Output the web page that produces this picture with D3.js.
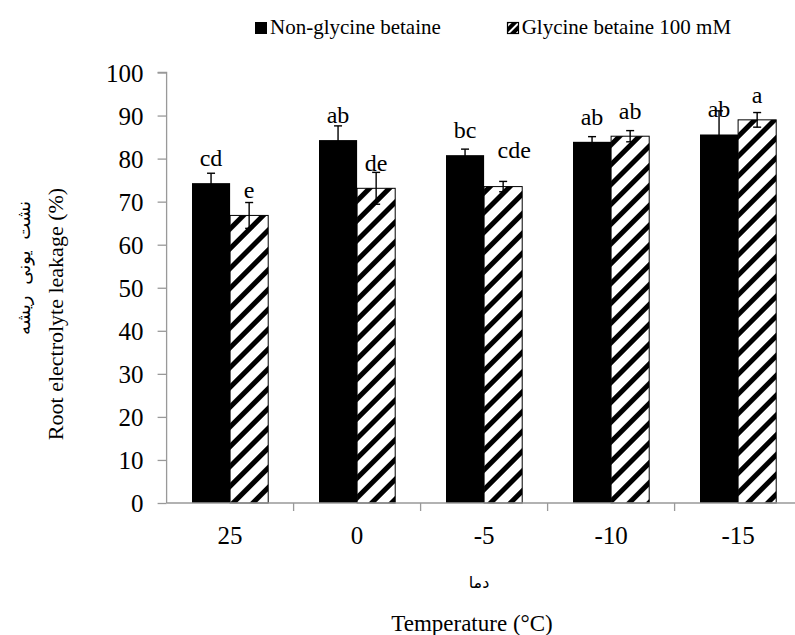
<!DOCTYPE html>
<html>
<head>
<meta charset="utf-8">
<script src="https://cdn.jsdelivr.net/npm/d3@7"></script>
<style>
  body { margin: 0; background: #fff; }
  text { font-family: "Liberation Serif", "Times New Roman", serif; fill: #000; }
  .fa { font-family: "DejaVu Sans", "Noto Sans", sans-serif; }
</style>
</head>
<body>
<div id="chartDiv"></div>
<script>
//----------------------------------------------------------------------------------------------------
var temperatures   = ["25", "0", "-5", "-10", "-15"];
var nonGB          = [74.3, 84.3, 80.8, 83.9, 85.6];   // Non-glycine betaine
var nonGBErr       = [2.3, 3.3, 1.4, 1.2, 5.5];
var withGB         = [66.8, 73.1, 73.5, 85.2, 89.0];   // Glycine betaine 100 mM
var withGBErr      = [3.0, 3.7, 1.2, 1.3, 1.7];
var nonGBLetters   = ["cd", "ab", "bc", "ab", "ab"];
var withGBLetters  = ["e", "de", "cde", "ab", "a"];
var yTicks         = [0, 10, 20, 30, 40, 50, 60, 70, 80, 90, 100];
var seriesNames    = ["Non-glycine betaine", "Glycine betaine 100 mM"];

var width = 795, height = 635;
var axisColor = "#999";

//----------------------------------------------------------------------------------------------------
function drawChart()
{
   var svg = d3.select("#chartDiv").append("svg")
       .attr("width", width)
       .attr("height", height);

   var defs = svg.append("defs");

      // wide diagonal stripes for the bars, a finer one for the legend swatch
   var hatch = defs.append("pattern")
       .attr("id", "hatch")
       .attr("patternUnits", "userSpaceOnUse")
       .attr("width", 14).attr("height", 14)
       .attr("patternTransform", "rotate(45)");
   hatch.append("rect").attr("width", 14).attr("height", 14).attr("fill", "#fff");
   hatch.append("rect").attr("width", 5).attr("height", 14).attr("fill", "#000");

   var hatchSmall = defs.append("pattern")
       .attr("id", "hatchSmall")
       .attr("patternUnits", "userSpaceOnUse")
       .attr("width", 6).attr("height", 6)
       .attr("patternTransform", "rotate(45)");
   hatchSmall.append("rect").attr("width", 6).attr("height", 6).attr("fill", "#fff");
   hatchSmall.append("rect").attr("width", 4).attr("height", 6).attr("fill", "#000");

   var xScale = d3.scaleBand()
       .domain(temperatures)
       .range([166.6, 801.6]);

   var barW = xScale.bandwidth() * 0.3;
   var gapW = xScale.bandwidth() * 0.2;

   var yScale = d3.scaleLinear()
       .domain([0, 100])
       .range([503, 72.5]);

      // y axis
   var yAxis = d3.axisLeft(yScale)
       .tickValues(yTicks)
       .tickSize(9)
       .tickPadding(14);

   var gy = svg.append("g")
       .attr("transform", "translate(166.6,0)")
       .call(yAxis);
   gy.attr("font-family", null).attr("font-size", null);
   gy.selectAll("path, line").attr("stroke", axisColor).attr("stroke-width", 1.3);
   gy.select(".domain").attr("d", "M-9,72.5H0V503");
   gy.selectAll("text")
       .attr("dy", "0.34em")
       .style("font-family", "'Liberation Serif', serif")
       .style("font-size", "25px");

   var rows = temperatures.map(function(t, i){
      return {t: t, i: i};
      });

      // bars
   var series = [
      {vals: nonGB, errs: nonGBErr, letters: nonGBLetters, fill: "#000", off: 0},
      {vals: withGB, errs: withGBErr, letters: withGBLetters, fill: "url(#hatch)", off: barW}
      ];

   series.forEach(function(s, k){
      svg.append("g").selectAll("rect")
         .data(rows)
         .enter()
         .append("rect")
         .attr("x", function(d){ return xScale(d.t) + gapW + s.off; })
         .attr("y", function(d){ return yScale(s.vals[d.i]); })
         .attr("width", barW)
         .attr("height", function(d){ return yScale(0) - yScale(s.vals[d.i]); })
         .attr("fill", s.fill)
         .attr("stroke", "#000")
         .attr("stroke-width", k == 0 ? 0 : 1);
      });

      // x axis line, boundary ticks and category labels
   var gx = svg.append("g").attr("transform", "translate(0,503)");
   gx.append("line")
      .attr("x1", 166.6).attr("x2", width)
      .attr("stroke", axisColor).attr("stroke-width", 1.3);
   gx.selectAll("line.tick")
      .data(temperatures.slice(1))
      .enter()
      .append("line")
      .attr("class", "tick")
      .attr("x1", function(d){ return xScale(d); })
      .attr("x2", function(d){ return xScale(d); })
      .attr("y1", 0).attr("y2", 8)
      .attr("stroke", axisColor).attr("stroke-width", 1.3);
   gx.selectAll("text")
      .data(temperatures)
      .enter()
      .append("text")
      .attr("x", function(d){ return xScale(d) + xScale.bandwidth() / 2; })
      .attr("y", 41)
      .attr("text-anchor", "middle")
      .style("font-size", "25px")
      .text(function(d){ return d; });

      // error bars and letters
   series.forEach(function(s, k){
      var g = svg.append("g");
      rows.forEach(function(d){
         var cx = xScale(d.t) + gapW + s.off + barW / 2;
         var top = yScale(s.vals[d.i] + s.errs[d.i]);
         var bot = yScale(s.vals[d.i] - s.errs[d.i]);
         g.append("line").attr("x1", cx).attr("x2", cx).attr("y1", top).attr("y2", bot)
            .attr("stroke", "#000").attr("stroke-width", 1.4);
         g.append("line").attr("x1", cx - 4).attr("x2", cx + 4).attr("y1", top).attr("y2", top)
            .attr("stroke", "#000").attr("stroke-width", 1.4);
         g.append("line").attr("x1", cx - 4).attr("x2", cx + 4).attr("y1", bot).attr("y2", bot)
            .attr("stroke", "#000").attr("stroke-width", 1.4);

            // the "cde" label was nudged up and right in the original
         var dx = 0, dy = 0;
         if(k == 1 && d.t == "-5"){ dx = 11; dy = -12; }
         g.append("text")
            .attr("x", cx + dx)
            .attr("y", yScale(s.vals[d.i]) - 17 + dy)
            .attr("text-anchor", "middle")
            .style("font-size", "24px")
            .text(s.letters[d.i]);
         });
      });

      // legend
   var leg = svg.append("g");
   leg.append("rect").attr("x", 255).attr("y", 22).attr("width", 12).attr("height", 12).attr("fill", "#000");
   leg.append("text").attr("x", 270).attr("y", 34).style("font-size", "21px").text(seriesNames[0]);
   leg.append("rect").attr("x", 507.5).attr("y", 22.5).attr("width", 11).attr("height", 11)
      .attr("fill", "url(#hatchSmall)").attr("stroke", "#000").attr("stroke-width", 1.2);
   leg.append("text").attr("x", 521.7).attr("y", 34).style("font-size", "21px").text(seriesNames[1]);

      // axis titles
   svg.append("text")
      .attr("transform", "translate(63,314) rotate(-90)")
      .attr("text-anchor", "middle")
      .style("font-size", "22px")
      .text("Root electrolyte leakage (%)");

   svg.append("text")
      .attr("class", "fa")
      .attr("transform", "translate(30,268) rotate(-90)")
      .attr("text-anchor", "middle")
      .style("font-size", "18px")
      .style("word-spacing", "5px")
      .text("نشت یونی ریشه");

   svg.append("text")
      .attr("class", "fa")
      .attr("x", 479).attr("y", 588)
      .attr("text-anchor", "middle")
      .style("font-size", "16px")
      .text("دما");

   svg.append("text")
      .attr("x", 472).attr("y", 631)
      .attr("text-anchor", "middle")
      .style("font-size", "23px")
      .text("Temperature (°C)");

} // drawChart
//----------------------------------------------------------------------------------------------------
drawChart();
</script>
</body>
</html>
